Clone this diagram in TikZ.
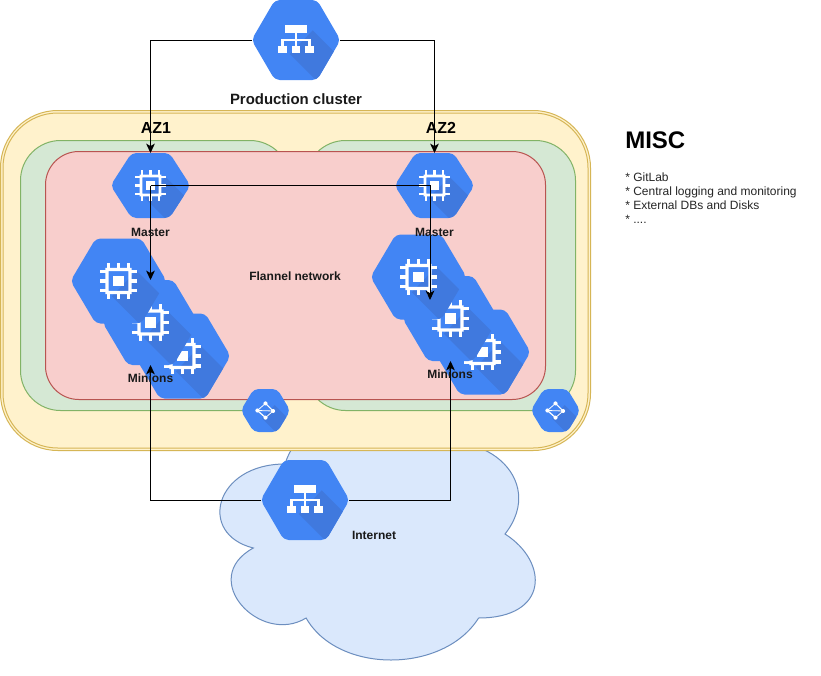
\documentclass[tikz,border=0pt]{standalone}
\usepackage{fontspec}
\setmainfont{Liberation Sans}
\usetikzlibrary{arrows.meta}
\definecolor{gblue}{HTML}{4285F4}
\definecolor{gshade}{HTML}{4079DE}
\definecolor{ylwF}{HTML}{FFF2CC}
\definecolor{ylwD}{HTML}{D6B656}
\definecolor{grnF}{HTML}{D5E8D4}
\definecolor{grnD}{HTML}{82B366}
\definecolor{redF}{HTML}{F8CECC}
\definecolor{redD}{HTML}{B85450}
\definecolor{bluF}{HTML}{DAE8FC}
\definecolor{bluD}{HTML}{6C8EBF}
\tikzset{
  link/.style={draw=black,line width=.75pt,line cap=butt},
  arrowlink/.style={link,-{Stealth[length=7pt,width=6.5pt,inset=1.8pt]}},
  anchorbox/.style={inner sep=0pt,outer sep=0pt},
  lab/.style={inner sep=0pt,font=\fontsize{9}{10.5}\selectfont\bfseries,text=black!90},
  azlab/.style={inner sep=0pt,font=\fontsize{12}{14}\selectfont\bfseries},
  zone/.style={line width=.75pt},
}
% icons, in units of the hexagon width
\newcommand{\iconchip}{%
  \fill[white,even odd rule] (-.137,-.137) rectangle (.137,.137) (-.104,-.104) rectangle (.104,.104);
  \fill[white] (-.053,-.053) rectangle (.053,.053);
  \foreach \p in {-.105,0,.105}{%
    \fill[white] (\p-.016,-.19) rectangle (\p+.016,-.13);
    \fill[white] (\p-.016,.13) rectangle (\p+.016,.19);
    \fill[white] (-.19,\p-.016) rectangle (-.13,\p+.016);
    \fill[white] (.13,\p-.016) rectangle (.19,\p+.016);
  }%
}
\newcommand{\iconnet}{%
  \fill[white] (-.127,-.17) rectangle (.127,-.083);
  \fill[white] (-.016,-.09) rectangle (.016,.075);
  \fill[white] (-.16,-.014) rectangle (.16,.014);
  \fill[white] (-.168,-.014) rectangle (-.136,.075);
  \fill[white] (.136,-.014) rectangle (.168,.075);
  \fill[white] (-.2,.068) rectangle (-.106,.152);
  \fill[white] (-.05,.068) rectangle (.05,.152);
  \fill[white] (.106,.068) rectangle (.2,.152);
}
\newcommand{\iconshare}{%
  \draw[white,line width=.9pt] (0,-.145) -- (.155,.01);
  \draw[white,line width=.9pt] (-.165,0) -- (0,.145);
  \draw[white,line width=.6pt] (-.165,0) -- (0,-.145);
  \draw[white,line width=.6pt] (.155,.01) -- (0,.145);
  \draw[white,line width=.6pt] (-.165,0) -- (.155,.01);
  \foreach \q in {(-.165,0),(0,-.145),(.155,.01),(0,.145)}{\fill[white] \q circle (.042);}%
}
% #1 name, #2 cx, #3 cy, #4 w, #5 h, #6 icon macro
\newcommand{\hexa}[6]{%
  \node[anchorbox,minimum width=#4*.75pt,minimum height=#5*.75pt] (#1) at (#2,#3) {};
  \begin{scope}[shift={(#2,#3)},xscale=#4,yscale=#4]
    \pgfmathsetmacro{\hr}{#5/#4/2}
    \begin{scope}
      \clip[rounded corners=3.6pt] (-.505,0) -- (-.24,-\hr) -- (.24,-\hr) -- (.505,0) -- (.24,\hr) -- (-.24,\hr) -- cycle;
      \fill[gblue] (-.6,-.6) rectangle (.6,.6);
      \fill[gshade] (-.07,.16) -- (.19,-.11) -- (.8,.5) -- (.8,.8) -- (.57,.8) -- cycle;
    \end{scope}
    #6
  \end{scope}
}
\begin{document}
\begin{tikzpicture}[x=.75pt,y=-.75pt]
\useasboundingbox (0,0) rectangle (821,675);
\fill[white] (0,0) rectangle (821,675);
% cloud
\begin{scope}[shift={(197,394)},xscale=352,yscale=280]
\draw[fill=bluF,draw=bluD,line width=.75pt] (.25,.25)
  .. controls (.05,.25) and (0,.5) .. (.16,.55)
  .. controls (0,.66) and (.18,.9) .. (.31,.8)
  .. controls (.4,1) and (.7,1) .. (.8,.8)
  .. controls (1,.8) and (1,.6) .. (.875,.5)
  .. controls (1,.3) and (.8,.1) .. (.625,.2)
  .. controls (.5,.05) and (.3,.05) .. (.25,.25) -- cycle;
\end{scope}
% zones
\draw[zone,draw=ylwD,fill=ylwF,rounded corners=43pt] (.5,110.5) rectangle (590.5,450.5);
\draw[zone,draw=ylwD,rounded corners=41pt] (3,113) rectangle (588,448);
\draw[zone,draw=grnD,fill=grnF,rounded corners=30pt] (20.5,140.5) rectangle (290,410.5);
\draw[zone,draw=grnD,fill=grnF,rounded corners=30pt] (305.5,140.5) rectangle (575.5,410.5);
\draw[zone,draw=redD,fill=redF,rounded corners=25pt] (45.5,151.5) rectangle (545.5,399.5);
% hexagons
\hexa{top}{296}{40}{88}{80}{\iconnet}
\hexa{mone}{150.5}{185.5}{79}{65}{\iconchip}
\hexa{mtwo}{434.5}{185.5}{79}{65}{\iconchip}
\hexa{lthree}{182.5}{356}{95}{85}{\iconchip}
\hexa{ltwo}{150.5}{322.5}{95}{85}{\iconchip}
\hexa{lone}{118.5}{281}{95}{85}{\iconchip}
\hexa{rthree}{482.5}{352}{95}{85}{\iconchip}
\hexa{rtwo}{450.5}{318.5}{95}{85}{\iconchip}
\hexa{rone}{418.5}{277}{95}{85}{\iconchip}
\hexa{sone}{265.5}{410.5}{49}{43}{\iconshare}
\hexa{stwo}{555.5}{410.5}{49}{43}{\iconshare}
\hexa{inet}{305}{500}{88}{80}{\iconnet}
% connectors
\coordinate (rin) at (430,300);
\draw[arrowlink] (top.west) -| (mone.north);
\draw[arrowlink] (top.east) -| (mtwo.north);
\draw[arrowlink] (mone.center) -- (ltwo.north);
\draw[arrowlink] (mone.center) -| (rin);
\draw[arrowlink] (inet.west) -| (ltwo.south);
\draw[arrowlink] (inet.east) -| (rtwo.south);
% labels
\node[lab,font=\fontsize{11.2}{13}\selectfont\bfseries] (tp) at (296,99) {Production cluster};
\node[azlab] (azone) at (156,128) {AZ1};
\node[azlab] (aztwo) at (441,128) {AZ2};
\node[lab] (mlone) at (150.5,232) {Master};
\node[lab] (mltwo) at (434.5,232) {Master};
\node[lab] (fl) at (295,276) {Flannel network};
\node[lab] (mnone) at (150.5,378) {Minions};
\node[lab] (mntwo) at (450,374) {Minions};
\node[lab] (inl) at (374,535) {Internet};
\node[anchor=west,inner sep=0pt,font=\fontsize{18}{20}\selectfont\bfseries] (misc) at (625,140) {MISC};
\node[anchor=north west,inner sep=0pt,align=left,font=\fontsize{9}{10.5}\selectfont,text=black!85] (ml) at (625,172.5)
 {* GitLab\\* Central logging and monitoring\\* External DBs and Disks\\* ....};
\end{tikzpicture}
\end{document}
